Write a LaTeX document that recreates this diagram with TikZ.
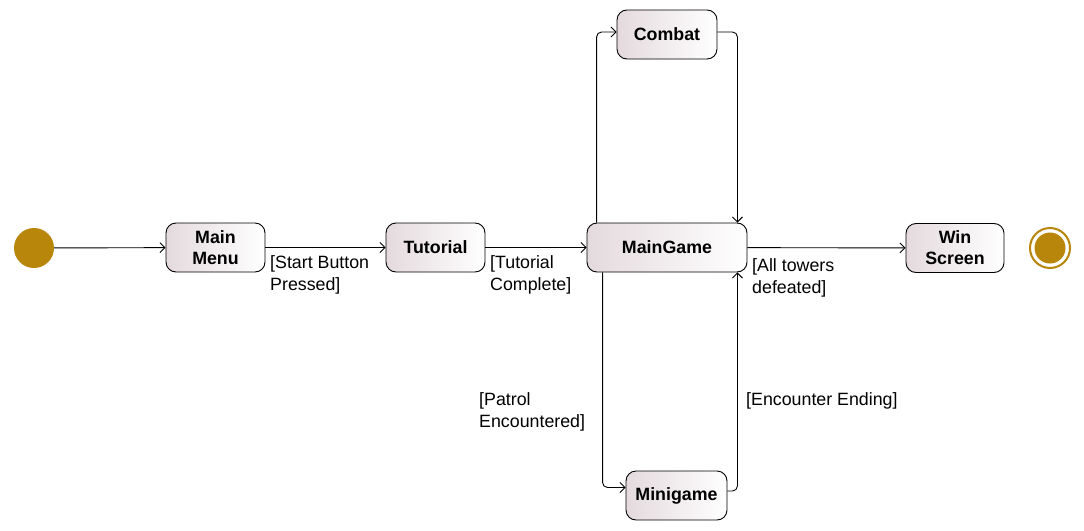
\documentclass[tikz,border=0pt]{standalone}
\usepackage{fontspec}
\setmainfont{Liberation Sans}
\usetikzlibrary{arrows.meta}
\definecolor{gold}{RGB}{184,134,11}
\definecolor{stateL}{RGB}{228,218,221}
\tikzset{
  x=1pt, y=-1pt,
  state/.style={draw=black, line width=0.9pt, rounded corners=10pt,
    left color=stateL, right color=white, minimum height=49pt,
    inner sep=0pt, align=center,
    font=\bfseries\fontsize{17.8}{21}\selectfont},
  arr/.style={line width=0.9pt, rounded corners=5pt,
    -{Straight Barb[length=5pt,width=10pt]}},
  lbl/.style={anchor=north west, inner sep=0pt, align=left,
    font=\fontsize{17.8}{22}\selectfont}
}
\begin{document}
\begin{tikzpicture}
\useasboundingbox (0,0) rectangle (1084,530);
\fill[white] (0,0) rectangle (1084,530);
% states
\node[circle, fill=gold, minimum size=40pt, inner sep=0pt] (start) at (34,248) {};
\node[state, minimum width=99pt] (mm) at (215.5,247.5) {Main\\Menu};
\node[state, minimum width=99pt] (tut) at (435.5,247.5) {Tutorial};
\node[state, minimum width=160pt] (mg) at (667,247.5) {MainGame};
\node[state, minimum width=100pt] (cb) at (667,34.5) {Combat};
\node[state, minimum width=101pt] (mini) at (676.5,495.5) {Minigame};
\node[state, minimum width=98pt] (win) at (955,248) {Win\\Screen};
\node[circle, draw=gold, line width=2pt, minimum size=40pt, inner sep=0pt] (endo) at (1050,248) {};
\node[circle, fill=gold, minimum size=31pt, inner sep=0pt] (endi) at (1050,248) {};
% transitions
\draw[arr] (start) -- (mm);
\draw[arr] (mm) -- (tut);
\draw[arr] (tut) -- (mg);
\draw[arr] (mg) -- (win);
\draw[arr] ([xshift=10pt]mg.north west) |- ([yshift=2.5pt]cb.west);
\draw[arr] ([yshift=2.5pt]cb.east) -| ([xshift=-10pt]mg.north east);
\draw[arr] ([xshift=16pt]mg.south west) |- ([yshift=8pt]mini.west);
\draw[arr] ([yshift=4.5pt]mini.east) -| ([xshift=-10pt]mg.south east);
% guards
\node[lbl] (l1) at (270,255) {[Start Button\\Pressed]};
\node[lbl] (l2) at (490,255) {[Tutorial\\Complete]};
\node[lbl] (l3) at (752,258) {[All towers\\defeated]};
\node[lbl] (l4) at (479,392) {[Patrol\\Encountered]};
\node[lbl] (l5) at (746,392) {[Encounter Ending]};
\end{tikzpicture}
\end{document}
